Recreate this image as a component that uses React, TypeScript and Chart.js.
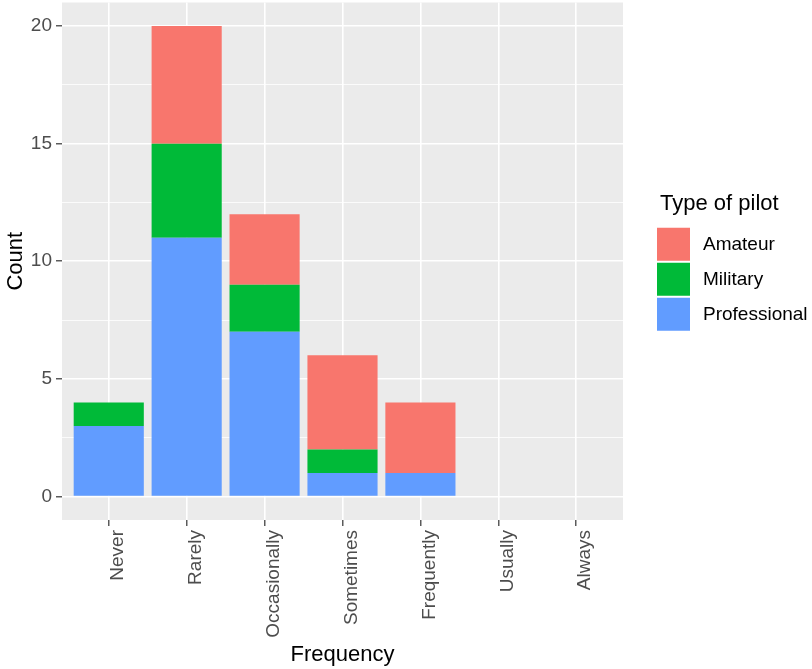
import React, { useEffect, useRef } from 'react';
import { Chart, registerables } from 'chart.js';

Chart.register(...registerables);

const categories = ['Never', 'Rarely', 'Occasionally', 'Sometimes', 'Frequently', 'Usually', 'Always'];
const professional = [3, 11, 7, 1, 1, 0, 0];
const military = [1, 4, 2, 1, 0, 0, 0];
const amateur = [0, 5, 3, 4, 3, 0, 0];
const seriesNames = ['Professional', 'Military', 'Amateur'];
const seriesColors = ['#619CFF', '#00BA38', '#F8766D'];
const yMajorTicks = [0, 5, 10, 15, 20];
const yMinorTicks = [2.5, 7.5, 12.5, 17.5];
const legendTitle = 'Type of pilot';
const xTitle = 'Frequency';
const yTitle = 'Count';

const FONT = "'Liberation Sans', Arial, Helvetica, sans-serif";

const panelBg = {
  id: 'panelBg',
  beforeDraw(chart: any) {
    const { ctx, chartArea } = chart;
    ctx.save();
    ctx.fillStyle = '#EBEBEB';
    ctx.fillRect(chartArea.left, chartArea.top, chartArea.right - chartArea.left, chartArea.bottom - chartArea.top);
    ctx.restore();
  },
};

const ggLegend = {
  id: 'ggLegend',
  afterDraw(chart: any) {
    const { ctx, chartArea } = chart;
    const left = chartArea.right + 34;
    const center = (chartArea.top + chartArea.bottom) / 2;
    const keySize = 33;
    const keyStep = 35;
    const titleH = 34;
    const n = chart.data.datasets.length;
    const blockH = titleH + (n - 1) * keyStep + keySize;
    const top = center - blockH / 2 + 1;
    ctx.save();
    ctx.fillStyle = '#000';
    ctx.font = `22px ${FONT}`;
    ctx.textAlign = 'left';
    ctx.textBaseline = 'alphabetic';
    ctx.fillText(legendTitle, left + 3, top + 16);
    const items = chart.data.datasets.slice().reverse();
    items.forEach((ds: any, i: number) => {
      const y = top + titleH + i * keyStep;
      ctx.fillStyle = ds.backgroundColor;
      ctx.fillRect(left, y, keySize, keySize);
      ctx.fillStyle = '#000';
      ctx.font = `19px ${FONT}`;
      ctx.textBaseline = 'middle';
      ctx.fillText(ds.label, left + keySize + 13, y + keySize / 2 + 1);
    });
    ctx.restore();
  },
};

export default function App() {
  const ref = useRef<HTMLCanvasElement | null>(null);

  useEffect(() => {
    if (!ref.current) return;
    Chart.defaults.font.family = FONT;
    const series = [professional, military, amateur];
    const chart = new Chart(ref.current, {
      type: 'bar',
      data: {
        datasets: series.map((vals, s) => ({
          label: seriesNames[s],
          data: vals.map((v, i) => ({ x: i, y: v })),
          backgroundColor: seriesColors[s],
          borderWidth: 0,
          barPercentage: 0.9,
          categoryPercentage: 1.0,
        })),
      },
      options: {
        responsive: false,
        animation: false,
        layout: { padding: { top: 2.5, right: 189, left: 0, bottom: 0 } },
        plugins: {
          legend: { display: false },
          tooltip: { enabled: false },
        },
        scales: {
          x: {
            type: 'linear',
            stacked: true,
            offset: false,
            min: -0.6,
            max: categories.length - 1 + 0.6,
            afterBuildTicks: (scale: any) => {
              scale.ticks = categories.map((_, i) => ({ value: i }));
            },
            afterFit: (scale: any) => {
              scale.height = 149;
              scale.paddingLeft = 0;
              scale.paddingRight = 0;
              scale.paddingTop = 0;
              scale.paddingBottom = 0;
            },
            border: { display: false },
            grid: {
              offset: false,
              color: '#FFFFFF',
              lineWidth: 1.6,
              tickColor: '#333333',
              tickLength: 6,
              tickWidth: 1.2,
            },
            ticks: {
              autoSkip: false,
              minRotation: 90,
              maxRotation: 90,
              labelOffset: 9,
              padding: 4,
              color: '#4D4D4D',
              font: { size: 19 },
              callback: (v: any) => categories[Math.round(Number(v))] ?? '',
            },
            title: {
              display: true,
              text: xTitle,
              color: '#000',
              font: { size: 22 },
              padding: { top: 0, bottom: 1 },
            },
          },
          y: {
            type: 'linear',
            stacked: true,
            min: -1,
            max: 21,
            afterBuildTicks: (scale: any) => {
              scale.ticks = [...yMajorTicks, ...yMinorTicks].sort((a, b) => a - b).map((v) => ({ value: v }));
            },
            afterFit: (scale: any) => {
              scale.width = 62;
              scale.paddingLeft = 0;
              scale.paddingRight = 0;
              scale.paddingTop = 0;
              scale.paddingBottom = 0;
            },
            border: { display: false },
            grid: {
              color: '#FFFFFF',
              lineWidth: (c: any) => (c.tick && yMajorTicks.includes(c.tick.value) ? 1.6 : 0.8),
              tickColor: (c: any) => (c.tick && yMajorTicks.includes(c.tick.value) ? '#333333' : 'rgba(0,0,0,0)'),
              tickLength: 6,
              tickWidth: 1.2,
            },
            ticks: {
              padding: 4,
              color: '#4D4D4D',
              font: { size: 19 },
              callback: (v: any) => (yMajorTicks.includes(Number(v)) ? String(v) : ''),
            },
            title: {
              display: true,
              text: yTitle,
              color: '#000',
              font: { size: 22 },
              padding: { top: 3, bottom: 0 },
            },
          },
        },
      },
      plugins: [panelBg, ggLegend],
    } as any);
    return () => chart.destroy();
  }, []);

  return (
    <div style={{ position: 'fixed', left: 0, top: 0, width: 812, height: 669, background: '#fff' }}>
      <canvas ref={ref} width={812} height={669} style={{ display: 'block' }} />
    </div>
  );
}
